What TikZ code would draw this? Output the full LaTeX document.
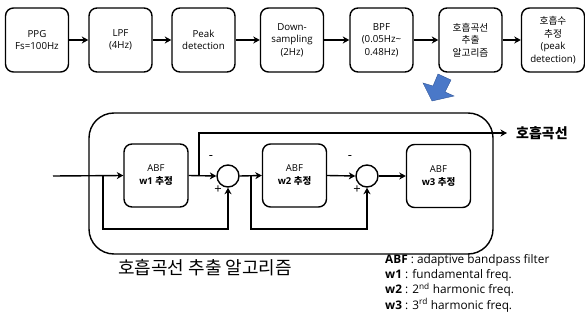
\documentclass[tikz,border=0pt]{standalone}
\usepackage{fontspec}
\setmainfont{Open Sans}
\newfontfamily\kr{Noto Sans CJK KR}
\usetikzlibrary{arrows.meta}
\definecolor{bluearrow}{HTML}{4A78C8}
\definecolor{blueedge}{HTML}{2F5597}
\begin{document}
\begin{tikzpicture}[x=1pt,y=-1pt,
  topbox/.style={draw, line width=1.4pt, rounded corners=8pt, minimum width=63pt, minimum height=64pt, align=center, inner sep=1pt, font=\fontsize{9.7}{12.5}\selectfont},
  abfbox/.style={draw, line width=1.4pt, rounded corners=8pt, minimum width=64pt, minimum height=63pt, align=center, inner sep=1pt, font=\fontsize{9.5}{13}\selectfont},
  sumnode/.style={draw, circle, line width=1.4pt, minimum size=22pt, inner sep=0pt},
  ln/.style={line width=1.4pt},
  arr/.style={line width=1.4pt, -{Stealth[length=6.5pt,width=7pt,inset=2pt]}},
  sign/.style={font=\fontsize{13}{13}\selectfont, inner sep=0pt}
]
\useasboundingbox (0,0) rectangle (585,323);

% top pipeline
\node[topbox] (p1) at (37,40) {PPG\\Fs=100Hz};
\node[topbox] (p2) at (120.5,40) {LPF\\(4Hz)};
\node[topbox] (p3) at (203.5,40) {Peak\\detection};
\node[topbox] (p4) at (292,40) {Down-\\sampling\\(2Hz)};
\node[topbox] (p5) at (381.5,40) {BPF\\(0.05Hz\textasciitilde\\0.48Hz)};
\node[topbox] (p6) at (470.5,40) {{\kr 호흡곡선}\\{\kr 추출}\\{\kr 알고리즘}};
\node[topbox] (p7) at (553,40) {{\kr 호흡수}\\{\kr 추정}\\(peak\\detection)};
\foreach \a/\b in {p1/p2,p2/p3,p3/p4,p4/p5,p5/p6,p6/p7}
  \draw[arr] (\a.east) -- (\b.west);

% blue block arrow
\fill[bluearrow, draw=blueedge, line width=0.4pt]
  (438,74) -- (451,80) -- (445,92) -- (454,96) -- (432,101) -- (423,83) -- (433,86) -- cycle;

% container
\node[draw, line width=1.4pt, rounded corners=25pt, minimum width=404pt, minimum height=141pt, inner sep=0pt] (box) at (291,183.5) {};

% inner blocks
\node[abfbox] (a1) at (156,175.5) {ABF\\\textbf{w1 {\kr 추정}}};
\node[abfbox] (a2) at (294.5,175.5) {ABF\\\textbf{w2 {\kr 추정}}};
\node[abfbox] (a3) at (438.5,176) {ABF\\\textbf{w3 {\kr 추정}}};
\node[sumnode] (c1) at (228,176) {};
\node[sumnode] (c2) at (367,176) {};

\coordinate (in) at (53,176);
\coordinate (b1) at (103,176);
\coordinate (bb1) at (103,229);
\coordinate (t1) at (199,176);
\coordinate (top1) at (199,133);
\coordinate (outend) at (507,133);
\coordinate (b2) at (251,176);
\coordinate (bb2) at (251,229);

\draw[arr] (in) -- (a1.west);
\draw[arr] (b1) -- (bb1) -| (c1.south);
\draw[arr] (a1.east) -- (c1.west);
\draw[arr] (t1) -- (top1) -- (outend);
\draw[arr] (c1.east) -- (a2.west);
\draw[arr] (b2) -- (bb2) -| (c2.south);
\draw[arr] (a2.east) -- (c2.west);
\draw[arr] (c2.east) -- (a3.west);

\node[sign] (m1) at (211,158) {-};
\node[sign] (pl1) at (218,190) {+};
\node[sign] (m2) at (350,158) {-};
\node[sign] (pl2) at (357,190) {+};

\node[anchor=west, inner sep=0pt, font=\fontsize{14}{14}\selectfont\kr\bfseries] (resp) at (516,133) {호흡곡선};

\node[inner sep=0pt, font=\fontsize{18}{18}\selectfont\kr] (title) at (205,268) {호흡곡선 추출 알고리즘};

\node[anchor=north west, align=left, inner sep=0pt, font=\fontsize{11.8}{15.3}\selectfont] (legend) at (385,254)
  {\textbf{ABF} : adaptive bandpass filter\\
   \textbf{w1} : fundamental freq.\\
   \textbf{w2} : 2\textsuperscript{nd} harmonic freq.\\
   \textbf{w3} : 3\textsuperscript{rd} harmonic freq.};
\end{tikzpicture}
\end{document}
